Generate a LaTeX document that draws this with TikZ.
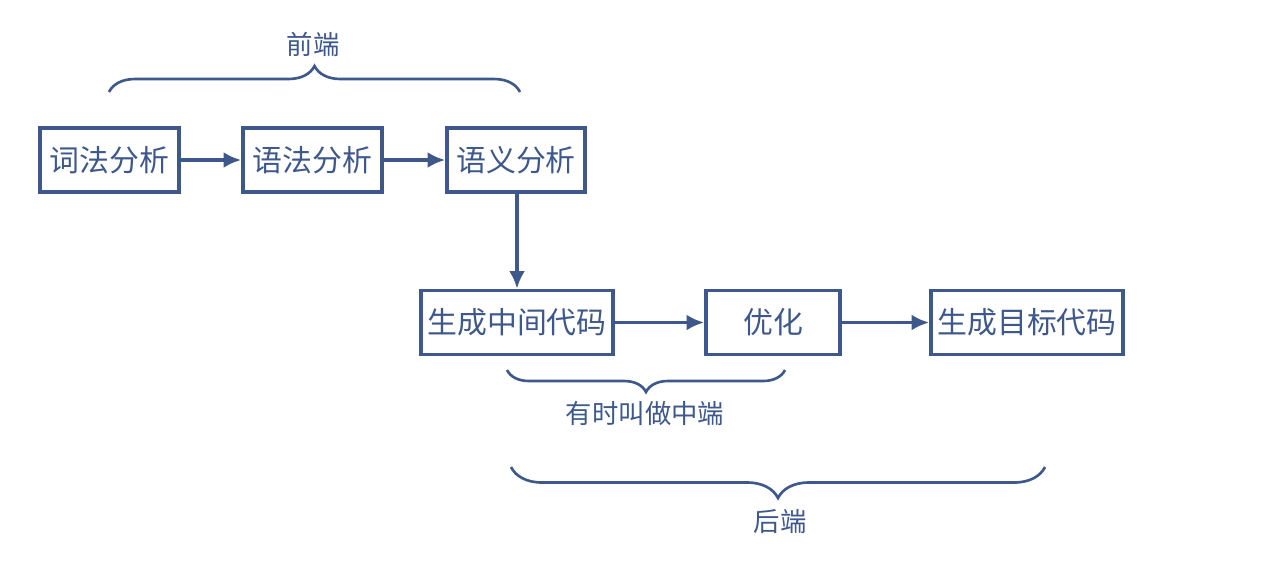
\documentclass[tikz,border=0pt]{standalone}
\usepackage{fontspec}
\newfontfamily\cjk{Noto Sans CJK SC}
\usetikzlibrary{arrows.meta,decorations.pathreplacing}
\definecolor{ink}{RGB}{62,88,140}
\begin{document}
\begin{tikzpicture}[
  every node/.style = {font=\cjk\fontsize{17}{19}\selectfont, text=ink},
  stage/.style = {draw=ink, line width=2pt, minimum height=1.28cm, inner sep=0pt},
  flow/.style = {draw=ink, line width=2pt, -{Latex[length=10pt,width=9pt]}},
  brace/.style = {draw=ink, line width=1.5pt, decorate, decoration={brace, amplitude=#1}},
  note/.style = {font=\cjk\fontsize{15}{17}\selectfont},
  ]
  \useasboundingbox (0,0) rectangle (25.44,-11.68);
  % front end
  \node[stage, minimum width=2.78cm] (lex) at (2.19,-3.2) {词法分析};
  \node[stage, minimum width=2.78cm] (syn) at (6.25,-3.2) {语法分析};
  \node[stage, minimum width=2.76cm] (sem) at (10.32,-3.2) {语义分析};
  % back end
  \node[stage, minimum width=3.84cm] (ir)  at (10.34,-6.45) {生成中间代码};
  \node[stage, minimum width=2.68cm] (opt) at (15.46,-6.45) {优化};
  \node[stage, minimum width=3.84cm] (gen) at (20.54,-6.45) {生成目标代码};
  \draw[flow] (lex) -- (syn);
  \draw[flow] (syn) -- (sem);
  \draw[flow] (sem.south -| ir.north) -- (ir);
  \draw[flow] (ir) -- (opt);
  \draw[flow] (opt) -- (gen);
  % braces
  \coordinate (fa) at (2.18,-1.84);
  \coordinate (fb) at (10.4,-1.84);
  \coordinate (ma) at (10.14,-7.4);
  \coordinate (mb) at (15.7,-7.4);
  \coordinate (ba) at (10.22,-9.34);
  \coordinate (bb) at (20.9,-9.34);
  \draw[brace=0.52cm] (fa) -- (fb);
  \draw[brace=0.44cm] (mb) -- (ma);
  \draw[brace=0.62cm] (bb) -- (ba);
  \node[note] (front) at (6.26,-0.88) {前端};
  \node[note] (middle) at (12.9,-8.26) {有时叫做中端};
  \node[note] (back) at (15.6,-10.44) {后端};
\end{tikzpicture}
\end{document}
